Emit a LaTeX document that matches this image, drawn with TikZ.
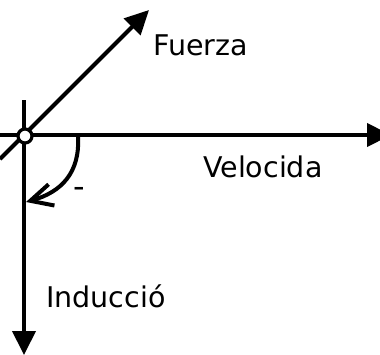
\documentclass[tikz,border=0pt]{standalone}
\usepackage{fontspec}
\setmainfont{DejaVu Sans}
\usetikzlibrary{arrows.meta}
\tikzset{
  axis/.style={line width=4pt,-{Triangle[length=24pt,width=23pt]}},
  lbl/.style={anchor=base west,inner sep=0pt,font=\fontsize{28.5}{34}\selectfont},
  barb/.style={line width=4pt,-{Straight Barb[length=22pt,width=22pt]}},
}
\begin{document}
\begin{tikzpicture}[x=1pt,y=-1pt]
\useasboundingbox (0,0) rectangle (380,354);
\coordinate (hl) at (0,135);
\coordinate (hr) at (391,135);
\coordinate (vt) at (24,100);
\coordinate (vb) at (24,355);
\coordinate (dl) at (0,159);
\coordinate (dr) at (149,10);
\coordinate (as) at (78,137);
\coordinate (ae) at (26,202);
\draw[axis] (hl) -- (hr);
\draw[axis] (vt) -- (vb);
\draw[axis] (dl) -- (dr);
\draw[barb] (as) .. controls (80,172) and (62,192) .. (ae);
\node[circle,draw,line width=3.2pt,fill=white,minimum size=14pt,inner sep=0pt] (o) at (25,136) {};
\node[lbl] (f) at (153,55) {Fuerza};
\node[lbl] (v) at (203,177) {Velocida};
\node[lbl] (i) at (46,307) {Inducció};
\node[inner sep=0pt,font=\fontsize{32}{36}\selectfont] (m) at (79,192) {-};
\end{tikzpicture}
\end{document}
